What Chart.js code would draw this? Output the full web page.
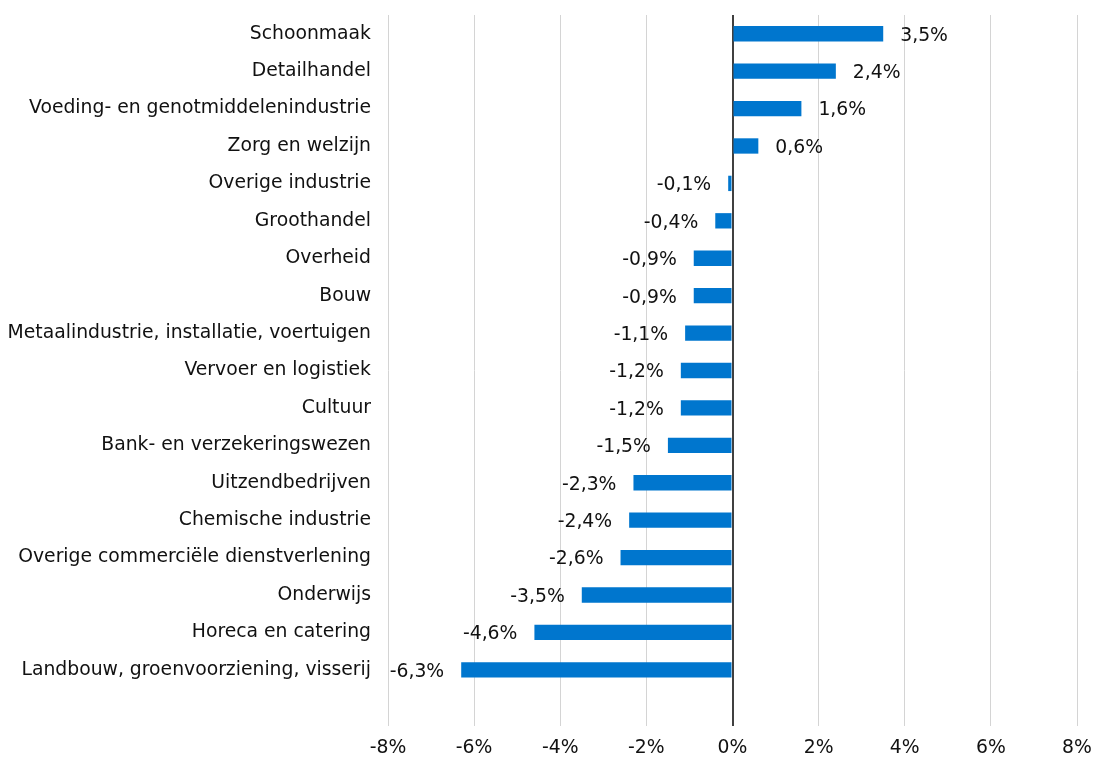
<!DOCTYPE html>
<html>
<head>
<meta charset="utf-8">
<script src="https://cdn.jsdelivr.net/npm/chart.js@4"></script>
<style>
  html, body { margin: 0; padding: 0; background: #fff; }
  #wrap { width: 1093px; height: 760px; }
</style>
</head>
<body>
<div id="wrap"><canvas id="sector-chart"></canvas></div>
<script>
// Sectors, top to bottom (last entry is an empty row that Excel leaves below)
const categories = [
  "Schoonmaak",
  "Detailhandel",
  "Voeding- en genotmiddelenindustrie",
  "Zorg en welzijn",
  "Overige industrie",
  "Groothandel",
  "Overheid",
  "Bouw",
  "Metaalindustrie, installatie, voertuigen",
  "Vervoer en logistiek",
  "Cultuur",
  "Bank- en verzekeringswezen",
  "Uitzendbedrijven",
  "Chemische industrie",
  "Overige commerciële dienstverlening",
  "Onderwijs",
  "Horeca en catering",
  "Landbouw, groenvoorziening, visserij",
  "",
];
const changes = [3.5, 2.4, 1.6, 0.6, -0.1, -0.4, -0.9, -0.9, -1.1, -1.2, -1.2, -1.5, -2.3, -2.4, -2.6, -3.5, -4.6, -6.3, null];
const xTicks = [-8, -6, -4, -2, 0, 2, 4, 6, 8];

const FONT = "'DejaVu Sans', Verdana, sans-serif";
const SIZE = 18.8;

const fmt = (v) => v.toFixed(1).replace(".", ",") + "%";

// Value labels next to the end of each bar
const valueLabels = {
  id: "valueLabels",
  afterDatasetsDraw(chart) {
    const ctx = chart.ctx;
    const meta = chart.getDatasetMeta(0);
    ctx.save();
    ctx.font = SIZE + "px " + FONT;
    ctx.fillStyle = "#111";
    ctx.textBaseline = "middle";
    meta.data.forEach((bar, i) => {
      const v = changes[i];
      if (v === null) return;
      if (v >= 0) {
        ctx.textAlign = "left";
        ctx.fillText(fmt(v), bar.x + 17, bar.y + 2);
      } else {
        ctx.textAlign = "right";
        ctx.fillText(fmt(v), bar.x - 17, bar.y + 2);
      }
    });
    ctx.restore();
  },
};

new Chart(document.getElementById("sector-chart"), {
  type: "bar",
  data: {
    labels: categories,
    datasets: [
      {
        data: changes,
        backgroundColor: "#0076CE",
        borderWidth: 0,
        barPercentage: 0.41,
        categoryPercentage: 1,
      },
    ],
  },
  options: {
    indexAxis: "y",
    responsive: true,
    maintainAspectRatio: false,
    animation: false,
    layout: {
      padding: { top: 15, right: 16, left: 0, bottom: 0 },
    },
    plugins: {
      legend: { display: false },
      tooltip: { enabled: false },
    },
    scales: {
      x: {
        min: -8,
        max: 8,
        afterBuildTicks: (scale) => {
          scale.ticks = xTicks.map((v) => ({ value: v }));
        },
        afterFit: (scale) => {
          scale.height = 34;
          scale.paddingLeft = 0;
          scale.paddingRight = 0;
        },
        ticks: {
          padding: 11,
          color: "#111",
          font: { family: FONT, size: SIZE },
          callback: (v) => v + "%",
        },
        grid: {
          drawTicks: false,
          color: (c) => (c.tick && c.tick.value === 0 ? "#404040" : "#d4d4d4"),
          lineWidth: (c) => (c.tick && c.tick.value === 0 ? 2 : 1),
        },
        border: { display: false },
      },
      y: {
        afterFit: (scale) => {
          scale.width = 388;
          scale.paddingTop = 0;
          scale.paddingBottom = 0;
        },
        ticks: {
          padding: 17,
          color: "#111",
          font: { family: FONT, size: SIZE },
          autoSkip: false,
        },
        grid: { display: false, drawTicks: false },
        border: { display: false },
      },
    },
  },
  plugins: [valueLabels],
});
</script>
</body>
</html>
